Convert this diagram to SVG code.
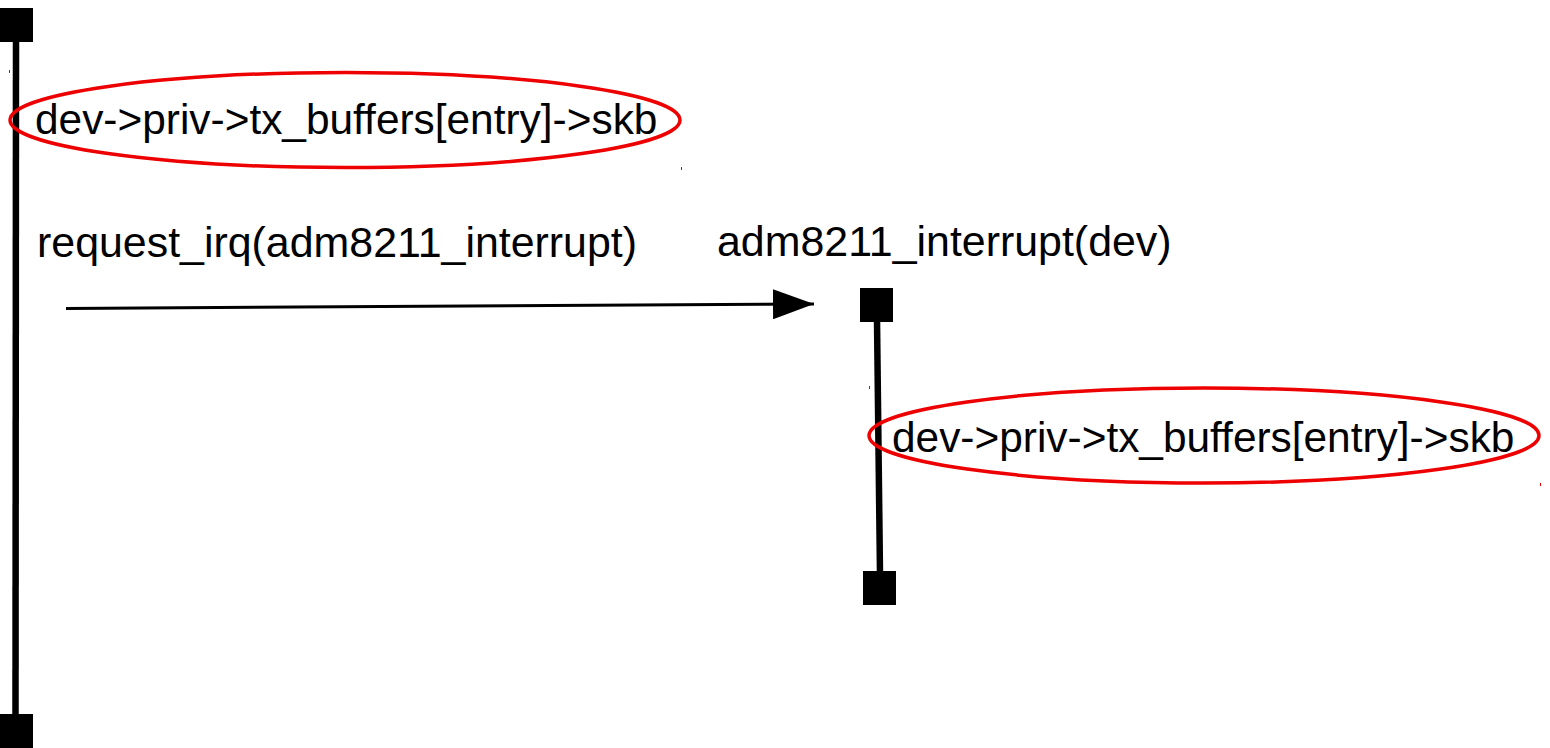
<svg xmlns="http://www.w3.org/2000/svg" width="1550" height="748" viewBox="0 0 1550 748">
<style>
.lbl{font-family:"Liberation Sans",Arial,sans-serif;font-size:42.4px;fill:#000}
.lbl2{font-family:"Liberation Sans",Arial,sans-serif;font-size:42.9px;fill:#000}
.life{stroke:#000;stroke-width:6.5;fill:none}
.cap{fill:#000}
.hl{fill:none;stroke:#e00;stroke-width:3.5}
.dot{fill:#e00}
</style>
<defs>
<marker id="arr" markerUnits="userSpaceOnUse" markerWidth="42" markerHeight="30" refX="41" refY="15" orient="auto">
<path d="M0,0 L41,15 L0,30 Z" fill="#000"/>
</marker>
</defs>
<rect width="1550" height="748" fill="#fff"/>
<g id="lifeline-left">
<line class="life" x1="16" y1="40" x2="15.5" y2="716"/>
<rect class="cap" x="0" y="8" width="33" height="34"/>
<rect class="cap" x="0" y="714" width="33" height="34"/>
</g>
<g id="lifeline-right">
<line class="life" x1="877" y1="320" x2="880" y2="574"/>
<rect class="cap" x="860" y="288" width="33" height="34"/>
<rect class="cap" x="863" y="571" width="33" height="34"/>
</g>
<g id="highlight-1">
<ellipse class="hl" cx="345" cy="120" rx="335" ry="47.5"/>
<text class="lbl" x="35" y="134">dev-&gt;priv-&gt;tx_buffers[entry]-&gt;skb</text>
<rect class="dot" x="9" y="70" width="1" height="3"/>
<rect class="dot" x="681" y="167" width="1" height="3"/>
</g>
<g id="highlight-2">
<ellipse class="hl" cx="1204" cy="435.5" rx="335" ry="47.5"/>
<text class="lbl" x="892" y="452">dev-&gt;priv-&gt;tx_buffers[entry]-&gt;skb</text>
<rect class="dot" x="869" y="386" width="1" height="3"/>
<rect class="dot" x="1540" y="483" width="1" height="3"/>
</g>
<g id="label-request">
<text class="lbl2" x="37" y="257">request_irq(adm8211_interrupt)</text>
</g>
<g id="label-interrupt">
<text class="lbl2" x="717" y="256">adm8211_interrupt(dev)</text>
</g>
<g id="connectors">
<line x1="66" y1="308.5" x2="814" y2="304" stroke="#000" stroke-width="3" marker-end="url(#arr)"/>
</g>
</svg>
